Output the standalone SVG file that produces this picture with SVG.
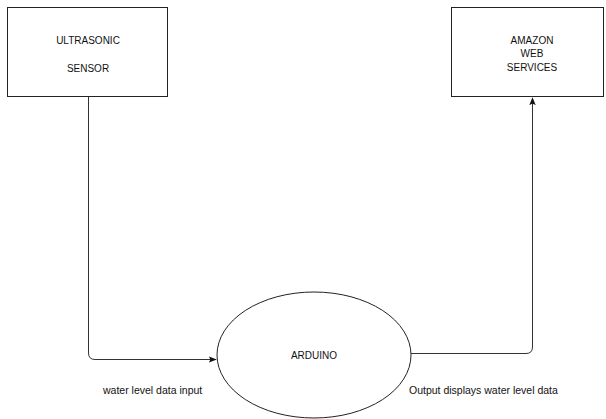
<svg xmlns="http://www.w3.org/2000/svg" width="606" height="419" viewBox="0 0 606 419">
<style>
.box{fill:#fff;stroke:#222;stroke-width:1}
.t{font-family:"Liberation Sans",Arial,sans-serif;font-size:10px;fill:#111;text-anchor:middle}
.lbl{font-family:"Liberation Sans",Arial,sans-serif;font-size:10.5px;fill:#111}
.c{fill:none;stroke:#333;stroke-width:1}
</style>
<defs>
<marker id="ah" viewBox="0 0 10 10" refX="9" refY="5" markerWidth="8" markerHeight="8" markerUnits="userSpaceOnUse" orient="auto">
<path d="M0,1 L10,5 L0,9 L2,5 Z" fill="#111"/>
</marker>
</defs>
<rect width="606" height="419" fill="#fff"/>
<g id="sensor">
<rect class="box" x="7.5" y="7.5" width="160" height="89"/>
<text class="t" x="88" y="44">ULTRASONIC</text>
<text class="t" x="88" y="72">SENSOR</text>
</g>
<g id="aws">
<rect class="box" x="451.5" y="7.5" width="152" height="89"/>
<text class="t" x="532" y="44">AMAZON</text>
<text class="t" x="532" y="57">WEB</text>
<text class="t" x="532" y="71">SERVICES</text>
</g>
<g id="arduino">
<ellipse class="box" cx="314" cy="355" rx="97" ry="63"/>
<text class="t" x="314" y="359">ARDUINO</text>
</g>
<g id="connectors">
<path class="c" d="M88.5,97 L88.5,353 Q88.5,359.5 95,359.5 L216,359.5" marker-end="url(#ah)"/>
<path class="c" d="M411,353.5 L526,353.5 Q532.5,353.5 532.5,347 L532.5,98" marker-end="url(#ah)"/>
<text class="lbl" x="103" y="394">water level data input</text>
<text class="lbl" x="409" y="394">Output displays water level data</text>
</g>
</svg>
